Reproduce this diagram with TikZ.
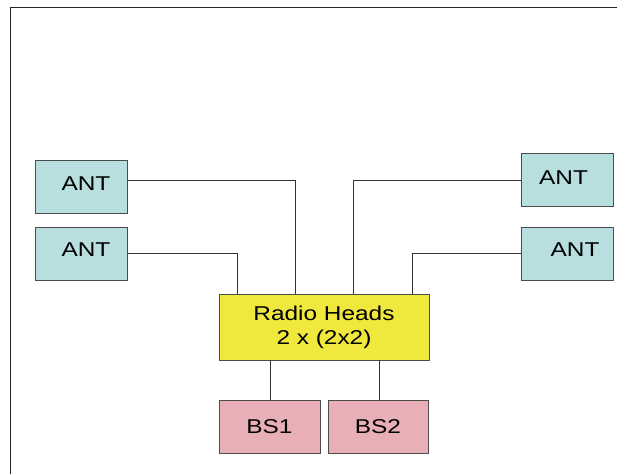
\documentclass[tikz,border=0pt]{standalone}
\usepackage{fontspec}
\setmainfont{Liberation Sans}[FakeStretch=1.22]
\begin{document}
\begin{tikzpicture}[x=1pt,y=-1pt,
  txt/.style={font=\fontsize{20}{24}\selectfont},
  box/.style={draw=black!70,line width=0.9pt,minimum width=92pt,minimum height=53pt,inner sep=0pt,txt},
  ant/.style={box,fill=antc},
  wire/.style={draw=black!80,line width=0.8pt},
]
\definecolor{antc}{HTML}{B8DEE0}
\definecolor{rhc}{HTML}{F0E83C}
\definecolor{bsc}{HTML}{E8AFB7}
\useasboundingbox (0,0) rectangle (617,474);
\draw[line width=1pt,black!85] (10,474) -- (10,7.5) -- (617,7.5);
\node[ant] (a1) at (81,186.5) {};
\node[txt] (t1) at (86,184) {ANT};
\node[ant] (a2) at (81,253.5) {};
\node[txt] (t2) at (86,250) {ANT};
\node[ant] (a3) at (567,180) {};
\node[txt] (t3) at (563.5,178) {ANT};
\node[ant] (a4) at (567,253.5) {};
\node[txt] (t4) at (575,250) {ANT};
\node[box,fill=rhc,minimum width=210pt,minimum height=66pt,align=center] (rh) at (324,327) {Radio Heads\\2 x (2x2)};
\node[box,fill=bsc,minimum width=101pt] (bs1) at (269.5,426.5) {BS1};
\node[box,fill=bsc,minimum width=100pt] (bs2) at (378,426.5) {BS2};
\draw[wire] (a1.east |- 0,180) -| (rh.north -| 295,0);
\draw[wire] (a2.east |- 0,253) -| (rh.north -| 237,0);
\draw[wire] (a3.west |- 0,180) -| (rh.north -| 353,0);
\draw[wire] (a4.west |- 0,253) -| (rh.north -| 412,0);
\draw[wire] (rh.south -| 270,0) -- (bs1.north -| 270,0);
\draw[wire] (rh.south -| 379,0) -- (bs2.north -| 379,0);
\end{tikzpicture}
\end{document}
